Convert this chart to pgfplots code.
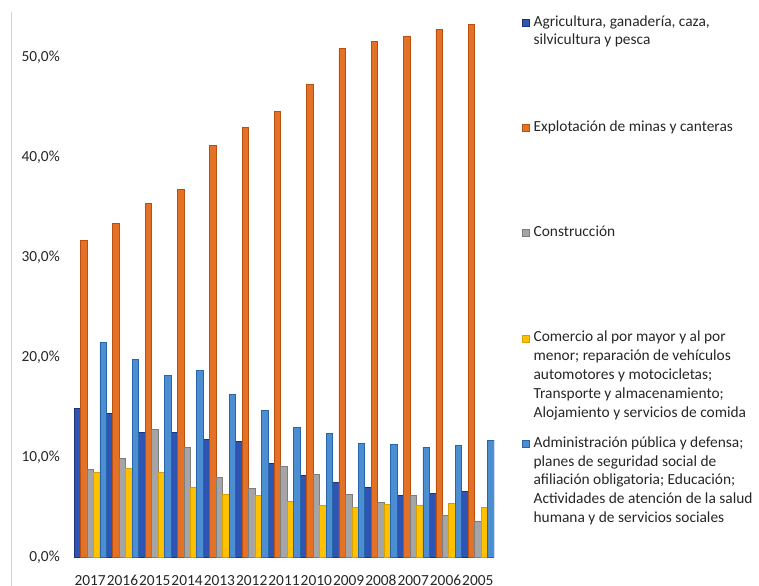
\documentclass[border=0pt]{standalone}
\usepackage{pgfplots}
\pgfplotsset{compat=1.18}
\usepackage{fontspec}
\setmainfont{Carlito}
\definecolor{cAgri}{RGB}{47,85,180}
\definecolor{cAgriD}{RGB}{28,50,125}
\definecolor{cExpl}{RGB}{228,114,38}
\definecolor{cExplD}{RGB}{185,80,15}
\definecolor{cCons}{RGB}{165,165,165}
\definecolor{cConsD}{RGB}{125,125,125}
\definecolor{cCom}{RGB}{255,192,0}
\definecolor{cComD}{RGB}{215,160,0}
\definecolor{cAdm}{RGB}{76,142,210}
\definecolor{cAdmD}{RGB}{40,100,170}
\definecolor{cText}{RGB}{38,38,38}
\definecolor{cFrame}{RGB}{210,210,210}
\newcommand{\lfont}{\fontsize{15.4bp}{18.8bp}\selectfont}
\newcommand{\lbox}[1]{\parbox[t]{240bp}{\raggedright #1}}
\begin{document}
\begin{tikzpicture}
\useasboundingbox (0,0) rectangle (759bp,586bp);
\draw[color=cFrame, line width=1bp] (11bp,0bp) -- (11bp,574bp);
\begin{axis}[
  at={(74bp,28.5bp)}, anchor=south west,
  scale only axis, width=420bp, height=550bp,
  xmin=-0.5, xmax=12.5, ymin=0, ymax=55,
  ybar=0pt, bar width=6.46bp,
  axis line style={draw=none}, tick style={draw=none},
  major tick length=0pt,
  xtick={0,...,12},
  xticklabels={2017,2016,2015,2014,2013,2012,2011,2010,2009,2008,2007,2006,2005},
  ytick={0,10,20,30,40,50},
  yticklabels={{0,0\%},{10,0\%},{20,0\%},{30,0\%},{40,0\%},{50,0\%}},
  ticklabel style={font=\lfont, text=cText, inner sep=0pt},
  xticklabel style={anchor=north, yshift=-17.5bp},
  yticklabel style={anchor=east, xshift=-14bp},
  legend style={at={(1,1)}, anchor=north west, xshift=28bp, yshift=-7.5bp,
    draw=none, fill=none, inner sep=0pt, outer sep=0pt, row sep=0pt,
    font=\lfont, text=cText, cells={anchor=base west},
    nodes={inner sep=0pt, text height=11bp, text depth=94.3bp},
    /tikz/every odd column/.append style={column sep=4bp}},
]
\addplot[fill=cAgri, draw=cAgriD, line width=0.6bp,
  legend image code/.code={\draw[fill=cAgri, draw=cAgriD, line width=0.6bp] (0bp,0bp) rectangle (7bp,7bp);}]
  coordinates {(0,14.9) (1,14.4) (2,12.5) (3,12.5) (4,11.8) (5,11.6) (6,9.4) (7,8.2) (8,7.5) (9,7.0) (10,6.2) (11,6.4) (12,6.6)};
\addlegendentry{\lbox{Agricultura, ganadería, caza,\\silvicultura y pesca}}
\addplot[fill=cExpl, draw=cExplD, line width=0.6bp,
  legend image code/.code={\draw[fill=cExpl, draw=cExplD, line width=0.6bp] (0bp,0bp) rectangle (7bp,7bp);}]
  coordinates {(0,31.7) (1,33.4) (2,35.4) (3,36.8) (4,41.2) (5,43.0) (6,44.6) (7,47.3) (8,50.9) (9,51.6) (10,52.1) (11,52.8) (12,53.3)};
\addlegendentry{\lbox{Explotación de minas y canteras}}
\addplot[fill=cCons, draw=cConsD, line width=0.6bp,
  legend image code/.code={\draw[fill=cCons, draw=cConsD, line width=0.6bp] (0bp,0bp) rectangle (7bp,7bp);}]
  coordinates {(0,8.8) (1,9.9) (2,12.8) (3,11.0) (4,8.0) (5,6.9) (6,9.1) (7,8.3) (8,6.3) (9,5.5) (10,6.2) (11,4.2) (12,3.6)};
\addlegendentry{\lbox{Construcción}}
\addplot[fill=cCom, draw=cComD, line width=0.6bp,
  legend image code/.code={\draw[fill=cCom, draw=cComD, line width=0.6bp] (0bp,0bp) rectangle (7bp,7bp);}]
  coordinates {(0,8.5) (1,8.9) (2,8.5) (3,7.0) (4,6.3) (5,6.2) (6,5.6) (7,5.2) (8,5.0) (9,5.3) (10,5.2) (11,5.4) (12,5.0)};
\addlegendentry{\lbox{Comercio al por mayor y al por\\menor; reparación de vehículos\\automotores y motocicletas;\\Transporte y almacenamiento;\\Alojamiento y servicios de comida}}
\addplot[fill=cAdm, draw=cAdmD, line width=0.6bp,
  legend image code/.code={\draw[fill=cAdm, draw=cAdmD, line width=0.6bp] (0bp,0bp) rectangle (7bp,7bp);}]
  coordinates {(0,21.5) (1,19.8) (2,18.2) (3,18.7) (4,16.3) (5,14.7) (6,13.0) (7,12.4) (8,11.4) (9,11.3) (10,11.0) (11,11.2) (12,11.7)};
\addlegendentry{\lbox{Administración pública y defensa;\\planes de seguridad social de\\afiliación obligatoria; Educación;\\Actividades de atención de la salud\\humana y de servicios sociales}}
\end{axis}
\end{tikzpicture}
\end{document}
